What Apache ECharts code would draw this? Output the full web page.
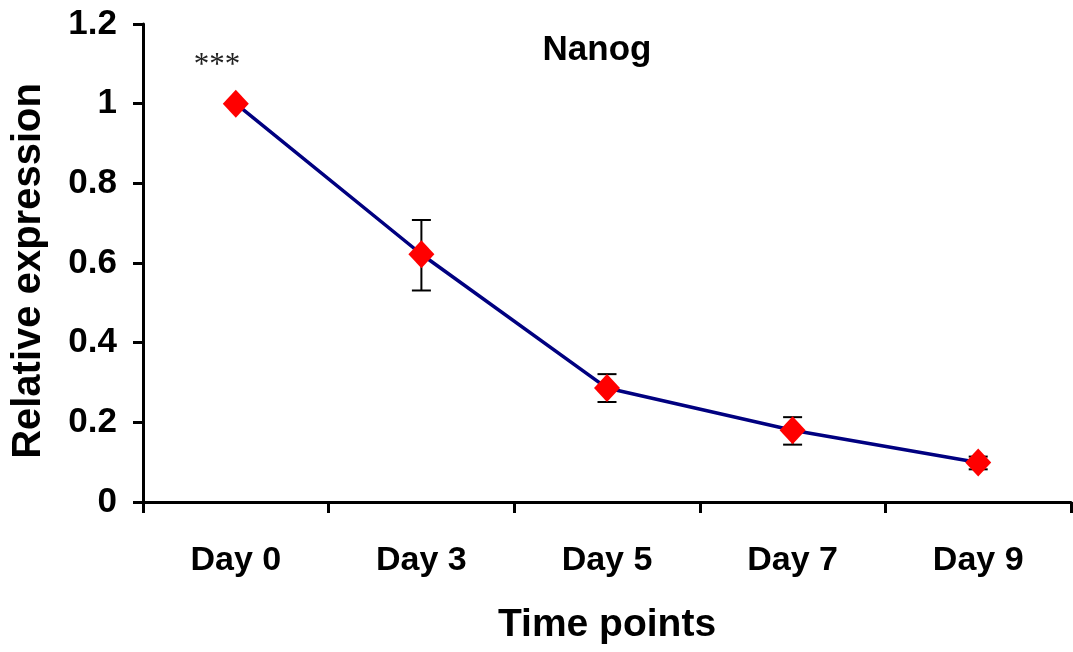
<!DOCTYPE html>
<html>
<head>
<meta charset="utf-8">
<script src="https://cdn.jsdelivr.net/npm/echarts@6/dist/echarts.min.js"></script>
<style>
html,body{margin:0;padding:0;background:#fff;}
#chart{width:1073px;height:652px;}
</style>
</head>
<body>
<div id="chart"></div>
<script>
const categories = ['Day 0', 'Day 3', 'Day 5', 'Day 7', 'Day 9'];
const values = [1.0, 0.622, 0.286, 0.180, 0.099];
const errHigh = [1.0, 0.708, 0.321, 0.213, 0.114];
const errLow = [1.0, 0.531, 0.251, 0.144, 0.082];
const yTicks = { min: 0, max: 1.2, interval: 0.2 };
const titleText = 'Nanog';
const sigText = '***';

const FONT = '"Liberation Sans", Arial, sans-serif';
const chart = echarts.init(document.getElementById('chart'));

const errData = categories.map((c, i) => [i, errLow[i], errHigh[i]]);

chart.setOption({
  animation: false,
  backgroundColor: '#fff',
  grid: { left: 143, right: 2, top: 24, bottom: 150, containLabel: false },
  xAxis: {
    type: 'category',
    data: categories,
    boundaryGap: true,
    axisLine: { lineStyle: { color: '#000', width: 3 } },
    axisTick: { show: true, length: 11, lineStyle: { color: '#000', width: 3 }, alignWithLabel: false },
    axisLabel: { color: '#000', fontFamily: FONT, fontWeight: 'bold', fontSize: 34, margin: 42 },
    name: 'Time points',
    nameLocation: 'middle',
    nameGap: 104,
    nameTextStyle: { color: '#000', fontFamily: FONT, fontWeight: 'bold', fontSize: 39 },
    splitLine: { show: false }
  },
  yAxis: {
    type: 'value',
    min: yTicks.min,
    max: yTicks.max,
    interval: yTicks.interval,
    axisLine: { show: true, lineStyle: { color: '#000', width: 3 } },
    axisTick: { show: true, length: 10, lineStyle: { color: '#000', width: 3 } },
    axisLabel: { color: '#000', fontFamily: FONT, fontWeight: 'bold', fontSize: 35, margin: 26 },
    splitLine: { show: false }
  },
  graphic: [
    {
      type: 'text', x: 597, y: 50,
      style: { text: titleText, fill: '#000', font: 'bold 35px ' + FONT, textAlign: 'center', textVerticalAlign: 'middle' }
    },
    {
      type: 'text', x: 217, y: 66,
      style: { text: sigText, fill: '#222', font: '31px "Liberation Serif", "Times New Roman", serif', textAlign: 'center', textVerticalAlign: 'middle' }
    },
    {
      type: 'text', x: 29, y: 271, rotation: Math.PI / 2,
      style: { text: 'Relative expression', fill: '#000', font: 'bold 40px ' + FONT, textAlign: 'center', textVerticalAlign: 'middle' }
    }
  ],
  series: [
    {
      type: 'custom',
      z: 1,
      data: errData,
      renderItem: function (params, api) {
        const x = api.value(0);
        const lo = api.coord([x, api.value(1)]);
        const hi = api.coord([x, api.value(2)]);
        if (Math.abs(hi[1] - lo[1]) < 0.5) return null;
        const hw = 9.5;
        const st = { stroke: '#000', lineWidth: 2 };
        return {
          type: 'group',
          children: [
            { type: 'line', shape: { x1: lo[0], y1: lo[1], x2: hi[0], y2: hi[1] }, style: st },
            { type: 'line', shape: { x1: lo[0] - hw, y1: lo[1], x2: lo[0] + hw, y2: lo[1] }, style: st },
            { type: 'line', shape: { x1: hi[0] - hw, y1: hi[1], x2: hi[0] + hw, y2: hi[1] }, style: st }
          ]
        };
      }
    },
    {
      type: 'line',
      z: 3,
      data: values,
      symbol: 'diamond',
      symbolSize: [26, 28],
      showAllSymbol: true,
      lineStyle: { color: '#000080', width: 3.5 },
      itemStyle: { color: '#ff0000', borderWidth: 0 }
    }
  ]
});
</script>
</body>
</html>
